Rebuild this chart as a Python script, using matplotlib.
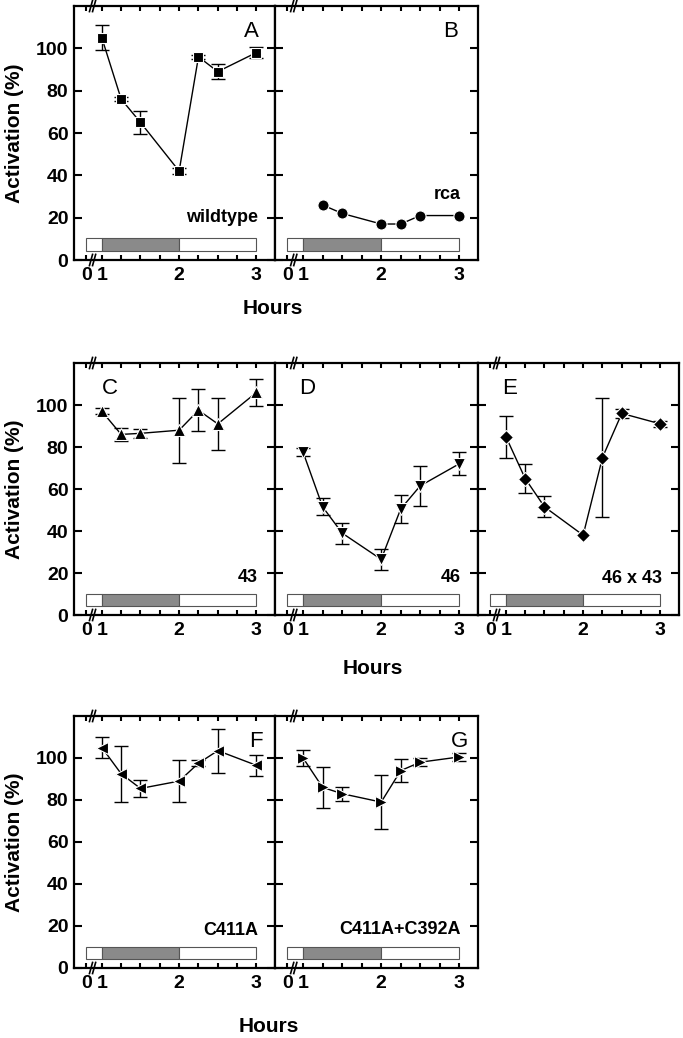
import matplotlib
matplotlib.use("Agg")
import matplotlib.pyplot as plt
import matplotlib.transforms as mtransforms
from matplotlib.patches import Rectangle

plt.rcParams["font.family"] = ["Liberation Sans", "DejaVu Sans"]

# sampling times (hours)
hours = [1, 1.25, 1.5, 2, 2.25, 2.5, 3]
rca_hours = [1.25, 1.5, 2, 2.25, 2.5, 3]

# activation (%) and error
wt = [105, 76, 65, 42, 96, 89, 98]
wt_err = [6, 1, 5.5, 1.5, 1, 3.5, 2.7]
rca = [26, 22, 17, 17, 21, 21]
s43 = [97, 86, 86.5, 88, 97.5, 91, 106]
s43_err = [1.5, 3, 2, 15.5, 10, 12.5, 6.5]
s46 = [77.5, 51.5, 39, 26.5, 50.5, 61.5, 72]
s46_err = [2, 4, 5, 5, 6.5, 9.5, 5.5]
s46x43 = [85, 65, 51.5, 38, 75, 96, 91]
s46x43_err = [10, 7, 5, float("nan"), 28.5, 2, 1.5]
c411a = [105, 92.5, 85.5, 89, 97.5, 103.5, 96.5]
c411a_err = [4.8, 13.4, 4, 10, 1.5, 10.5, 5]
c411a_c392a = [100, 86, 83, 79, 94, 98, 100.5]
c411a_c392a_err = [3.6, 9.8, 3.4, 12.7, 5.4, 2, 2]

# light/dark bar along the bottom
period_edges = [0, 1, 2, 3]
period_colors = ["white", "#8a8a8a", "white"]

y_ticks = [0, 20, 40, 60, 80, 100]
x_tick_hours = [0, 1, 2, 3]


def disp(h):
    # broken axis: hour 0 is squeezed next to hour 1
    return h if h >= 1 else 0.8 + 0.2 * h


def draw_panel(ax, x, y, err, marker, msize, letter, letter_pos, name, show_ylabels):
    if err is not None:
        ax.errorbar(x, y, yerr=err, fmt="none", ecolor="black",
                    elinewidth=1, capsize=5, capthick=1, zorder=2)
    ax.plot(x, y, color="black", linewidth=1, marker=marker,
            markersize=msize, markerfacecolor="black",
            markeredgecolor="white", markeredgewidth=0.8, zorder=3)

    for i in range(len(period_colors)):
        x0 = disp(period_edges[i])
        x1 = disp(period_edges[i + 1])
        ax.add_patch(Rectangle((x0, 4.4), x1 - x0, 5.8,
                               facecolor=period_colors[i],
                               edgecolor="#555555", linewidth=0.8, zorder=1))

    ax.set_xlim(0.64, 3.24)
    ax.set_ylim(0, 120)
    ax.set_yticks(y_ticks)
    ax.set_xticks([disp(h) for h in x_tick_hours])
    ax.set_xticklabels([str(h) for h in x_tick_hours])
    ax.set_xticks([1 + 0.25 * k for k in range(9)], minor=True)
    ax.tick_params(axis="y", direction="in", left=True, right=True,
                   length=6, width=1.5, labelsize=14, pad=4)
    ax.tick_params(axis="x", which="both", direction="in", top=True,
                   bottom=True, length=3.5, width=1.5, labelsize=14, pad=5)
    for lab in ax.get_xticklabels() + ax.get_yticklabels():
        lab.set_fontweight("bold")
    if not show_ylabels:
        ax.set_yticklabels([])
    for sp in ax.spines.values():
        sp.set_linewidth(1.6)

    # axis break marks
    trans = mtransforms.blended_transform_factory(ax.transData, ax.transAxes)
    for yb in (0, 1):
        for dx in (-0.02, 0.02):
            ax.plot([0.88 + dx - 0.02, 0.88 + dx + 0.02], [yb - 0.022, yb + 0.022],
                    color="black", linewidth=1.2, transform=trans,
                    clip_on=False, zorder=5)

    ha = "right" if letter_pos[0] > 0.5 else "left"
    ax.text(letter_pos[0], letter_pos[1], letter, transform=ax.transAxes,
            fontsize=16, ha=ha, va="center")
    ax.text(3.02, name[1], name[0], fontsize=13, fontweight="bold",
            ha="right", va="center")


fig = plt.figure(figsize=(6.83, 10.38), dpi=100)
W, H = 683.0, 1038.0


def add_ax(left, right, top, bottom):
    return fig.add_axes([left / W, 1 - bottom / H, (right - left) / W, (bottom - top) / H])


axA = add_ax(74, 275, 6, 260)
axB = add_ax(275, 478, 6, 260)
axC = add_ax(74, 275, 363, 615)
axD = add_ax(275, 478, 363, 615)
axE = add_ax(478, 679, 363, 615)
axF = add_ax(74, 275, 716, 968)
axG = add_ax(275, 478, 716, 968)

draw_panel(axA, hours, wt, wt_err, "s", 7, "A", (0.92, 0.9), ("wildtype", 20), True)
draw_panel(axB, rca_hours, rca, None, "o", 8, "B", (0.9, 0.9), ("rca", 31), False)
draw_panel(axC, hours, s43, s43_err, "^", 9, "C", (0.14, 0.9), ("43", 18), True)
draw_panel(axD, hours, s46, s46_err, "v", 9, "D", (0.12, 0.9), ("46", 18), False)
draw_panel(axE, hours, s46x43, s46x43_err, "D", 7.5, "E", (0.12, 0.9), ("46 x 43", 17.5), False)
draw_panel(axF, hours, c411a, c411a_err, "<", 9, "F", (0.94, 0.9), ("C411A", 18), True)
draw_panel(axG, hours, c411a_c392a, c411a_c392a_err, ">", 9, "G", (0.95, 0.9), ("C411A+C392A", 18.5), False)

for yc in (133, 489, 842):
    fig.text(15 / W, 1 - yc / H, "Activation (%)", rotation=90, fontsize=15,
             fontweight="bold", ha="center", va="center")

for xc, yc in ((273, 309), (373, 668), (269, 1027)):
    fig.text(xc / W, 1 - yc / H, "Hours", fontsize=15, fontweight="bold",
             ha="center", va="center")

plt.savefig("out.png", dpi=100)
plt.close()
